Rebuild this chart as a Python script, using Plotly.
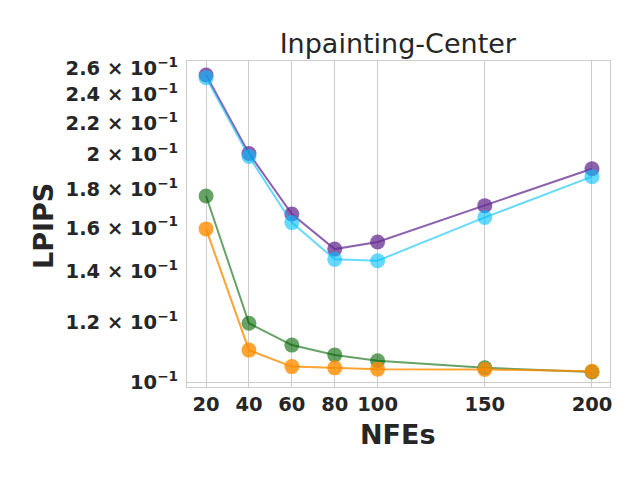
import plotly.graph_objects as go

nfes = [20, 40, 60, 80, 100, 150, 200]

# LPIPS per method
purple_vals = [0.2547, 0.2006, 0.1668, 0.1499, 0.1532, 0.1711, 0.1915]
blue_vals = [0.2527, 0.1987, 0.1625, 0.1453, 0.1447, 0.1651, 0.1869]
green_vals = [0.1762, 0.1196, 0.1119, 0.1086, 0.1067, 0.1044, 0.1031]
orange_vals = [0.1594, 0.1102, 0.1048, 0.1044, 0.1040, 0.1039, 0.1033]

ytick_vals = [0.1, 0.12, 0.14, 0.16, 0.18, 0.2, 0.22, 0.24, 0.26]
ytick_text = ["10", "1.2 × 10", "1.4 × 10", "1.6 × 10", "1.8 × 10",
              "2 × 10", "2.2 × 10", "2.4 × 10", "2.6 × 10"]

series = [
    (purple_vals, "rgba(102,45,145,0.75)"),
    (blue_vals, "rgba(0,191,255,0.6)"),
    (green_vals, "rgba(0,100,0,0.6)"),
    (orange_vals, "rgba(255,140,0,0.8)"),
]

fig = go.Figure()
for vals, col in series:
    fig.add_trace(go.Scatter(
        x=nfes, y=vals, mode="lines+markers",
        line=dict(color=col, width=2),
        marker=dict(color=col, size=15),
        showlegend=False,
    ))

# only one horizontal grid line (at 10^-1), drawn on an overlay axis
fig.add_trace(go.Scatter(x=[nfes[0]], y=[ytick_vals[0]], yaxis="y2",
                         mode="markers", marker=dict(opacity=0),
                         showlegend=False, hoverinfo="skip"))

yrange = [-1.0066, -0.5754]
fig.update_layout(
    width=640, height=480,
    margin=dict(l=187, r=30, t=61, b=93),
    paper_bgcolor="white", plot_bgcolor="white",
    font=dict(family="DejaVu Sans", color="#262626"),
    title=dict(text="Inpainting-Center", x=0.4984, xref="paper",
               y=0.91, yanchor="middle", font=dict(size=27)),
    xaxis=dict(
        range=[11.1, 208.4], tickvals=nfes, ticktext=[str(v) for v in nfes],
        showgrid=True, gridcolor="#cccccc", gridwidth=1,
        showline=True, linecolor="#cccccc", mirror=True, zeroline=False,
        ticks="", tickfont=dict(size=19.5, weight="bold"), automargin=False,
    ),
    yaxis=dict(
        type="log", range=yrange, tickvals=ytick_vals,
        ticktext=[t + "<sup>−1</sup>" for t in ytick_text],
        showgrid=False, showline=True, linecolor="#cccccc", mirror=True,
        zeroline=False, ticks="", tickfont=dict(size=19.5, weight="bold"),
        ticklabelstandoff=4, automargin=False,
    ),
    yaxis2=dict(
        type="log", range=yrange, overlaying="y", tickvals=[ytick_vals[0]],
        showticklabels=False, showgrid=True, gridcolor="#cccccc",
        zeroline=False, showline=False, automargin=False,
    ),
    annotations=[
        dict(text="<b>NFEs</b>", xref="paper", yref="paper", x=0.499, y=-0.147,
             showarrow=False, font=dict(size=27), xanchor="center", yanchor="middle"),
        dict(text="<b>LPIPS</b>", xref="paper", yref="paper", x=-0.338, y=0.494,
             showarrow=False, font=dict(size=27), textangle=-90,
             xanchor="center", yanchor="middle"),
    ],
)

# drop the page's default body margin so the figure sits at the window corner
fig.write_html("out.html", config={"displayModeBar": False},
               post_script="document.body.style.margin='0';")
